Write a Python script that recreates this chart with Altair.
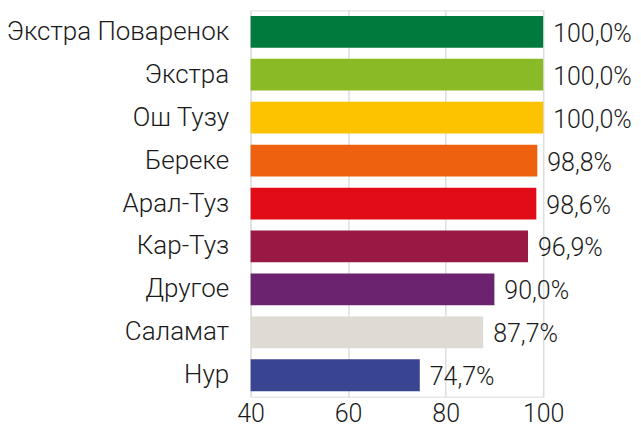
import altair as alt
import pandas as pd

brands = ["Экстра Поваренок", "Экстра", "Ош Тузу", "Береке", "Арал-Туз",
          "Кар-Туз", "Другое", "Саламат", "Нур"]
values = [100.0, 100.0, 100.0, 98.8, 98.6, 96.9, 90.0, 87.7, 74.7]
colors = ["#007A3D", "#8ABA26", "#FDC300", "#EE620F", "#E20C18",
          "#9A1944", "#6B2370", "#E0DAD4", "#3A4592"]
x_ticks = [40, 60, 80, 100]

df = pd.DataFrame({"brand": brands, "value": values})
df["label"] = [f"{v:.1f}".replace(".", ",") + "%" for v in values]

FONT = "Roboto"
W = 300

y = alt.Y("brand:N", sort=brands, title=None,
          scale=alt.Scale(paddingInner=0.26, paddingOuter=0.13),
          axis=alt.Axis(domain=False, ticks=False, labelFontSize=26,
                        labelFontWeight=W,
                        labelColor="#1a1a1a", labelPadding=22, labelFont=FONT,
                        labelLimit=300))
x = alt.X("value:Q", title=None,
          scale=alt.Scale(domain=[40, 100], zero=False, nice=False),
          axis=alt.Axis(values=x_ticks, domain=False, ticks=False,
                        labelFontSize=25, labelFontWeight=W,
                        labelColor="#1a1a1a", labelFont=FONT,
                        labelPadding=5, grid=True, gridColor="#dedede",
                        gridWidth=1.5, labelFlush=False))

bars = alt.Chart(df).mark_bar().encode(
    y=y, x=x, x2=alt.datum(40),
    color=alt.Color("brand:N", sort=brands,
                    scale=alt.Scale(domain=brands, range=colors), legend=None),
)
text = alt.Chart(df).mark_text(align="left", baseline="middle", dx=10, dy=2,
                               fontSize=25, fontWeight=W, font=FONT,
                               color="#1a1a1a").encode(
    y=alt.Y("brand:N", sort=brands), x=alt.X("value:Q"), text="label:N")

chart = alt.layer(bars, text).properties(
    width=293, height=387,
    autosize=alt.AutoSizeParams(type="none"),
    padding={"left": 243, "top": 2, "right": 90, "bottom": 30},
).configure_view(stroke=None).configure(background="white")

chart.save("out.html", embed_options={"renderer": "svg", "actions": False})
